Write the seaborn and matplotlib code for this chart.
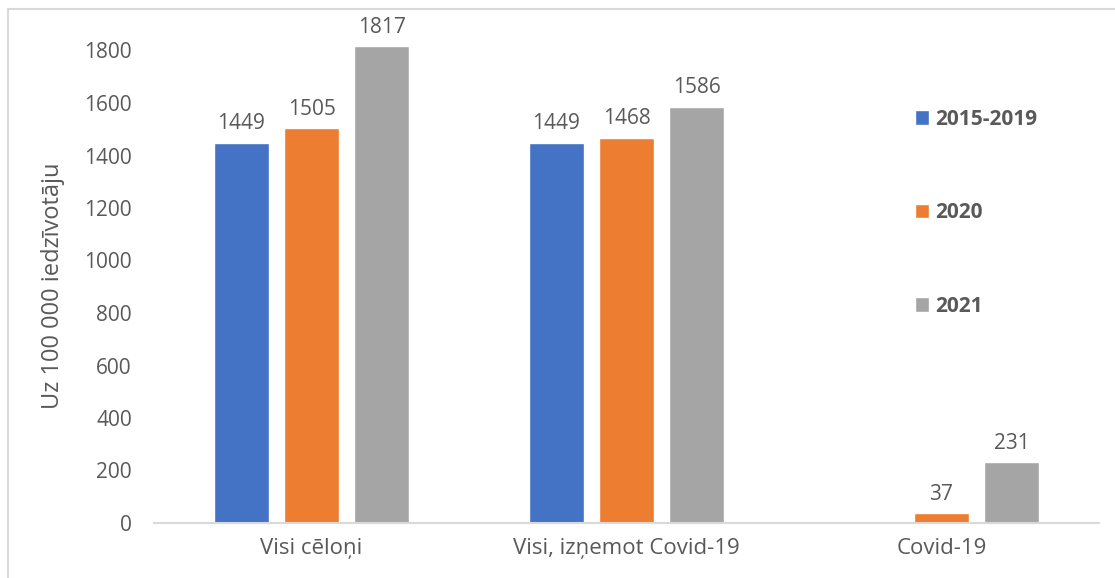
import numpy as np
import pandas as pd
import matplotlib
matplotlib.use("Agg")
import matplotlib.pyplot as plt
from matplotlib.lines import Line2D
import seaborn as sns

categories = ["Visi cēloņi", "Visi, izņemot Covid-19", "Covid-19"]
periods = ["2015-2019", "2020", "2021"]
values_2015_2019 = [1449, 1449, np.nan]
values_2020 = [1505, 1468, 37]
values_2021 = [1817, 1586, 231]
colors = ["#4472C4", "#ED7D31", "#A5A5A5"]
y_ticks = [0, 200, 400, 600, 800, 1000, 1200, 1400, 1600, 1800]
y_label = "Uz 100 000 iedzīvotāju"

df = pd.DataFrame({
    "cat": categories * 3,
    "period": [p for p in periods for _ in categories],
    "value": values_2015_2019 + values_2020 + values_2021,
})

sns.set_theme(style="white")
plt.rcParams["font.family"] = ["Open Sans", "DejaVu Sans"]
text_color = "#595959"

fig = plt.figure(figsize=(11.15, 5.78), dpi=100)
ax = fig.add_axes([154 / 1115, 1 - 523 / 578, (1099 - 154) / 1115, 525 / 578])

sns.barplot(data=df, x="cat", y="value", hue="period", order=categories,
            hue_order=periods, palette=colors, width=0.667, gap=0.214,
            saturation=1, ax=ax, legend=True)

for cont in ax.containers:
    labels = []
    for bar in cont:
        h = bar.get_height()
        labels.append("" if not np.isfinite(h) or h == 0 else f"{h:.0f}")
    ax.bar_label(cont, labels=labels, padding=6, fontsize=15, color=text_color)

ax.set_xlim(-0.5, 2.5)
ax.set_ylim(0, 2000)
ax.set_yticks(y_ticks)
ax.set_yticklabels([str(t) for t in y_ticks])
ax.tick_params(axis="both", length=0, colors=text_color)
ax.tick_params(axis="x", pad=11, labelsize=16)
ax.tick_params(axis="y", pad=16, labelsize=15)
ax.set_xlabel("")
ax.set_ylabel(y_label, fontsize=17, color=text_color)
ax.yaxis.set_label_coords(-0.094, 0.451)

for side in ["top", "right", "left"]:
    ax.spines[side].set_visible(False)
ax.spines["bottom"].set_color("#D9D9D9")
ax.spines["bottom"].set_linewidth(1.5)

handles, labels = ax.get_legend_handles_labels()
leg = ax.legend(handles, labels, loc="upper left",
                bbox_to_anchor=(896 / 1115, 1 - 90 / 578),
                bbox_transform=fig.transFigure, frameon=False,
                prop={"weight": "bold", "size": 15}, labelspacing=3.48,
                handlelength=0.67, handleheight=0.67, handletextpad=0.3)
for t in leg.get_texts():
    t.set_color(text_color)

# chart-area border along the left and top edges
fig.add_artist(Line2D([8 / 1115, 8 / 1115], [0, 1 - 9 / 578],
                      transform=fig.transFigure, color="#D9D9D9", lw=1.5))
fig.add_artist(Line2D([8 / 1115, 1], [1 - 9 / 578, 1 - 9 / 578],
                      transform=fig.transFigure, color="#D9D9D9", lw=1.5))

fig.savefig("out.png", dpi=100)
